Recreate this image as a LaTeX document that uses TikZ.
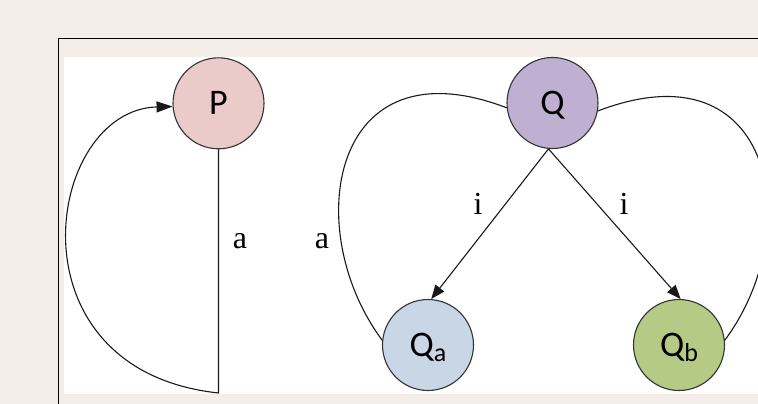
\documentclass[tikz,border=0pt]{standalone}
\usepackage{fontspec}
\setmainfont{Liberation Serif}
\newfontfamily\nodefont{Carlito}
\usetikzlibrary{arrows.meta}
\definecolor{parch}{RGB}{245,238,232}
\definecolor{pcol}{RGB}{235,203,202}
\definecolor{qcol}{RGB}{191,175,208}
\definecolor{qacol}{RGB}{200,214,230}
\definecolor{qbcol}{RGB}{181,202,132}
\begin{document}
\begin{tikzpicture}[x=1pt,y=-1pt,
  state/.style={circle, draw=black!80, line width=1.1pt, minimum size=91pt, inner sep=0pt,
    font=\nodefont\fontsize{36}{36}\selectfont, text height=23pt, text depth=0pt},
  conn/.style={draw=black!90, line width=1.1pt},
  tip/.style={-{Triangle[length=14pt,width=11pt]}},
  lbl/.style={font=\fontsize{32}{32}\selectfont, inner sep=0pt}]
\useasboundingbox (0,0) rectangle (758,404);
\fill[parch] (0,0) rectangle (758,404);
\fill[white] (64,57) rectangle (758,394);
\draw[line width=1.3pt] (758,38.5) -- (58.5,38.5) -- (58.5,404);

\node[state, fill=pcol] (P) at (218.5,103.3) {P};
\node[state, fill=qcol] (Q) at (552.5,103) {Q};
\node[state, fill=qacol] (Qa) at (428,345) {Q\raisebox{-5pt}{\fontsize{26}{26}\selectfont a}};
\node[state, fill=qbcol] (Qb) at (679,345) {Q\raisebox{-5pt}{\fontsize{26}{26}\selectfont b}};

\coordinate (pb) at (218.5,393);
\draw[conn, -{Triangle[length=16pt,width=11pt]}] (P.south) -- (pb) .. controls (5,370) and (45,110) .. (P.184);
\draw[conn] (Q.186) .. controls (330,40) and (300,230) .. (Qa.174);
\draw[conn] (Q.-10) .. controls (775,43) and (807,230) .. (Qb.6);
\draw[conn, tip] (Q.265) -- (Qa.86);
\draw[conn, tip] (Q.265) -- (Qb.88);

\node[lbl] (la1) at (240,241) {a};
\node[lbl] (la2) at (322,241) {a};
\node[lbl] (li1) at (478,204) {i};
\node[lbl] (li2) at (624,204) {i};
\end{tikzpicture}
\end{document}
